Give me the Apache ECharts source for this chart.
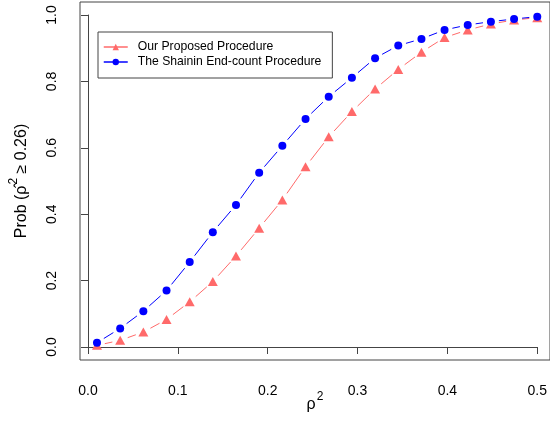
<!DOCTYPE html>
<html>
<head>
<meta charset="utf-8">
<script src="https://cdn.jsdelivr.net/npm/echarts@6/dist/echarts.min.js"></script>
<style>
html,body{margin:0;padding:0;background:#fff;}
#c{width:550px;height:424px;}
</style>
</head>
<body>
<div id="c"></div>
<script>
// ---- data ----
var rho2 = [0.0100, 0.0358, 0.0616, 0.0874, 0.1132, 0.1389, 0.1647, 0.1905, 0.2163, 0.2421,
            0.2679, 0.2937, 0.3195, 0.3453, 0.3711, 0.3968, 0.4226, 0.4484, 0.4742, 0.5000];
var proposed = [0.005, 0.020, 0.045, 0.083, 0.136, 0.197, 0.274, 0.358, 0.443, 0.543,
                0.633, 0.709, 0.777, 0.836, 0.888, 0.932, 0.955, 0.973, 0.985, 0.992];
var shainin = [0.013, 0.056, 0.108, 0.170, 0.256, 0.346, 0.428, 0.525, 0.606, 0.687,
               0.754, 0.811, 0.870, 0.908, 0.928, 0.955, 0.970, 0.980, 0.988, 0.995];
var xTicks = [0, 0.1, 0.2, 0.3, 0.4, 0.5];
var yTicks = [0, 0.2, 0.4, 0.6, 0.8, 1.0];
var seriesNames = ['Our Proposed Procedure', 'The Shainin End-count Procedure'];
var xTitle = '{m|ρ}{s|2}';
var yTitle = '{m|Prob (ρ̂}{s|2}{m| ≥ 0.26)}';

var RED = '#FF6A6A', BLUE = '#0000FF', AXIS = '#444';
var FONT = 'Liberation Sans, Arial, Helvetica, sans-serif';

function pts(ys) { return rho2.map(function (x, i) { return [x, ys[i]]; }); }
function segs(ys) {
  var out = [];
  for (var i = 0; i < rho2.length - 1; i++) out.push([rho2[i], ys[i], rho2[i + 1], ys[i + 1]]);
  return out;
}
function gapLine(color) {
  return function (params, api) {
    var p1 = api.coord([api.value(0), api.value(1)]);
    var p2 = api.coord([api.value(2), api.value(3)]);
    var dx = p2[0] - p1[0], dy = p2[1] - p1[1];
    var L = Math.sqrt(dx * dx + dy * dy), g = 8;
    if (L <= 2 * g) return null;
    var ux = dx / L, uy = dy / L;
    return {
      type: 'line',
      shape: { x1: p1[0] + ux * g, y1: p1[1] + uy * g, x2: p2[0] - ux * g, y2: p2[1] - uy * g },
      style: { stroke: color, lineWidth: 1 }
    };
  };
}
var richTitle = {
  m: { fontSize: 16, color: '#000', fontFamily: FONT, verticalAlign: 'bottom', lineHeight: 22 },
  s: { fontSize: 12, color: '#000', fontFamily: FONT, verticalAlign: 'top', lineHeight: 22, padding: [0, 0, 6, 1] }
};

var chart = echarts.init(document.getElementById('c'), null, { renderer: 'canvas' });
chart.setOption({
  animation: false,
  backgroundColor: '#fff',
  textStyle: { fontFamily: FONT },
  grid: [
    { left: 79, top: 2, width: 477, height: 358, show: true, borderColor: AXIS, borderWidth: 1, backgroundColor: 'transparent' },
    { left: 88, top: 15, width: 450, height: 332 }
  ],
  xAxis: [
    { gridIndex: 0, type: 'value', min: -0.0096, max: 0.5196,
      axisLine: { show: false }, axisTick: { show: false }, axisLabel: { show: false }, splitLine: { show: false },
      name: xTitle, nameLocation: 'middle', nameGap: 31,
      nameTextStyle: { rich: richTitle } },
    { gridIndex: 1, type: 'value', min: 0, max: 0.5, interval: 0.1, offset: 13,
      axisLine: { show: true, lineStyle: { color: AXIS, width: 1 } },
      axisTick: { show: true, inside: false, length: 7, lineStyle: { color: AXIS } },
      axisLabel: { show: true, margin: 24, fontSize: 14, color: '#000', fontFamily: FONT,
        formatter: function (v) { return v.toFixed(1); } },
      splitLine: { show: false } }
  ],
  yAxis: [
    { gridIndex: 0, type: 'value', min: -0.04, max: 1.04,
      axisLine: { show: false }, axisTick: { show: false }, axisLabel: { show: false }, splitLine: { show: false },
      name: yTitle, nameLocation: 'middle', nameGap: 50, nameRotate: 90,
      nameTextStyle: { rich: richTitle } },
    { gridIndex: 1, type: 'value', min: 0, max: 1, interval: 0.2, offset: 9,
      axisLine: { show: true, lineStyle: { color: AXIS, width: 1 } },
      axisTick: { show: true, inside: false, length: 7, lineStyle: { color: AXIS } },
      axisLabel: { show: true, margin: 20, fontSize: 14, color: '#000', rotate: 90, fontFamily: FONT,
        formatter: function (v) { return v.toFixed(1); } },
      splitLine: { show: false } }
  ],
  legend: {
    orient: 'vertical', left: 98, top: 32,
    data: seriesNames,
    borderColor: AXIS, borderWidth: 1, borderRadius: 0,
    padding: [9, 11, 10, 5],
    itemWidth: 24, itemHeight: 8, itemGap: 3,
    textStyle: { fontSize: 12.2, color: '#000', fontFamily: FONT, padding: [0, 0, 0, 5] },
    lineStyle: { width: 1.5, opacity: 1 }
  },
  series: [
    { type: 'custom', name: 'redline', xAxisIndex: 1, yAxisIndex: 1, renderItem: gapLine(RED),
      data: segs(proposed), encode: { x: [0, 2], y: [1, 3] }, silent: true, z: 2 },
    { type: 'line', name: seriesNames[0], xAxisIndex: 1, yAxisIndex: 1, data: pts(proposed),
      symbol: 'triangle', symbolSize: [10, 9], showSymbol: true, clip: false,
      itemStyle: { color: RED }, lineStyle: { color: RED, opacity: 0 }, z: 3 },
    { type: 'custom', name: 'blueline', xAxisIndex: 1, yAxisIndex: 1, renderItem: gapLine(BLUE),
      data: segs(shainin), encode: { x: [0, 2], y: [1, 3] }, silent: true, z: 4 },
    { type: 'line', name: seriesNames[1], xAxisIndex: 1, yAxisIndex: 1, data: pts(shainin),
      symbol: 'circle', symbolSize: 8, showSymbol: true, clip: false,
      itemStyle: { color: BLUE }, lineStyle: { color: BLUE, opacity: 0 }, z: 5 }
  ]
});
</script>
</body>
</html>
